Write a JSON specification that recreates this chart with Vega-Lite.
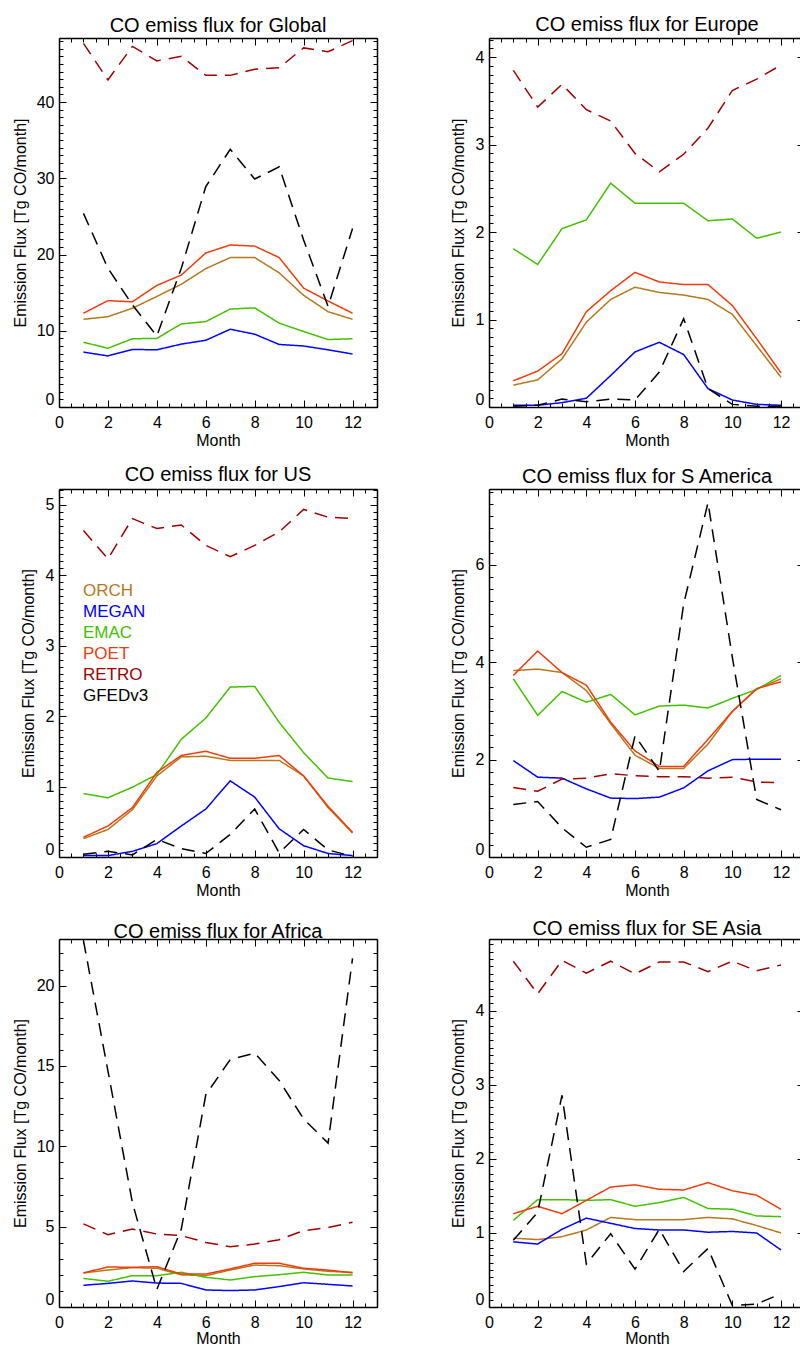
{
"$schema": "https://vega.github.io/schema/vega-lite/v6.json",
"padding": {"left": 12, "top": 14, "right": 0, "bottom": 0},
"bounds": "flush",
"columns": 2,
"spacing": {"row": 82, "column": 112},
"config": {
  "font": "Liberation Sans",
  "view": {"stroke": null},
  "axis": {"domainColor": "#000", "domainWidth": 1.5, "tickColor": "#000", "tickWidth": 1, "labelFontSize": 16, "labelColor": "#000", "labelFont": "Liberation Sans", "titleFont": "Liberation Sans", "titleFontSize": 16, "titleFontWeight": "normal", "titleColor": "#000", "grid": false, "labelOverlap": false, "labelBound": false},
  "title": {"font": "Liberation Sans", "fontSize": 20, "fontWeight": "normal", "color": "#000", "frame": "group", "baseline": "alphabetic", "offset": -3, "anchor": "middle"}
},
"data": {"values": [
{"r":"Global","m":1,"ORCH":11.5,"MEGAN":7.2,"EMAC":8.5,"POET":12.3,"RETRO":47.7,"GFEDv3":25.4},
{"r":"Global","m":2,"ORCH":11.85,"MEGAN":6.7,"EMAC":7.7,"POET":13.95,"RETRO":42.9,"GFEDv3":18.2},
{"r":"Global","m":3,"ORCH":12.95,"MEGAN":7.55,"EMAC":8.95,"POET":13.8,"RETRO":47.3,"GFEDv3":13.4},
{"r":"Global","m":4,"ORCH":14.5,"MEGAN":7.5,"EMAC":9.0,"POET":15.95,"RETRO":45.4,"GFEDv3":9.3},
{"r":"Global","m":5,"ORCH":16.1,"MEGAN":8.25,"EMAC":10.9,"POET":17.3,"RETRO":46.0,"GFEDv3":18.2},
{"r":"Global","m":6,"ORCH":18.15,"MEGAN":8.75,"EMAC":11.2,"POET":20.2,"RETRO":43.5,"GFEDv3":28.9},
{"r":"Global","m":7,"ORCH":19.6,"MEGAN":10.2,"EMAC":12.85,"POET":21.25,"RETRO":43.5,"GFEDv3":33.8},
{"r":"Global","m":8,"ORCH":19.6,"MEGAN":9.55,"EMAC":13.0,"POET":21.1,"RETRO":44.3,"GFEDv3":29.9},
{"r":"Global","m":9,"ORCH":17.6,"MEGAN":8.2,"EMAC":11.0,"POET":19.6,"RETRO":44.5,"GFEDv3":31.5},
{"r":"Global","m":10,"ORCH":14.65,"MEGAN":8.0,"EMAC":9.9,"POET":15.6,"RETRO":47.1,"GFEDv3":21.9},
{"r":"Global","m":11,"ORCH":12.5,"MEGAN":7.5,"EMAC":8.85,"POET":13.9,"RETRO":46.6,"GFEDv3":13.2},
{"r":"Global","m":12,"ORCH":11.5,"MEGAN":6.95,"EMAC":8.95,"POET":12.3,"RETRO":48.05,"GFEDv3":23.4},
{"r":"Europe","m":1,"ORCH":0.25,"MEGAN":0.02,"EMAC":1.81,"POET":0.30,"RETRO":3.85,"GFEDv3":0.01},
{"r":"Europe","m":2,"ORCH":0.31,"MEGAN":0.02,"EMAC":1.63,"POET":0.41,"RETRO":3.43,"GFEDv3":0.02},
{"r":"Europe","m":3,"ORCH":0.55,"MEGAN":0.05,"EMAC":2.04,"POET":0.61,"RETRO":3.69,"GFEDv3":0.09},
{"r":"Europe","m":4,"ORCH":0.97,"MEGAN":0.10,"EMAC":2.14,"POET":1.09,"RETRO":3.40,"GFEDv3":0.06},
{"r":"Europe","m":5,"ORCH":1.23,"MEGAN":0.36,"EMAC":2.56,"POET":1.33,"RETRO":3.27,"GFEDv3":0.09},
{"r":"Europe","m":6,"ORCH":1.37,"MEGAN":0.63,"EMAC":2.33,"POET":1.54,"RETRO":2.90,"GFEDv3":0.08},
{"r":"Europe","m":7,"ORCH":1.31,"MEGAN":0.74,"EMAC":2.33,"POET":1.43,"RETRO":2.69,"GFEDv3":0.40},
{"r":"Europe","m":8,"ORCH":1.28,"MEGAN":0.60,"EMAC":2.33,"POET":1.40,"RETRO":2.89,"GFEDv3":1.01},
{"r":"Europe","m":9,"ORCH":1.23,"MEGAN":0.21,"EMAC":2.13,"POET":1.40,"RETRO":3.19,"GFEDv3":0.21},
{"r":"Europe","m":10,"ORCH":1.06,"MEGAN":0.08,"EMAC":2.15,"POET":1.16,"RETRO":3.62,"GFEDv3":0.03},
{"r":"Europe","m":11,"ORCH":0.70,"MEGAN":0.03,"EMAC":1.93,"POET":0.78,"RETRO":3.75,"GFEDv3":0.01},
{"r":"Europe","m":12,"ORCH":0.34,"MEGAN":0.02,"EMAC":2.00,"POET":0.39,"RETRO":3.91,"GFEDv3":0.01},
{"r":"US","m":1,"ORCH":0.26,"MEGAN":0.02,"EMAC":0.90,"POET":0.28,"RETRO":4.63,"GFEDv3":0.04},
{"r":"US","m":2,"ORCH":0.39,"MEGAN":0.02,"EMAC":0.84,"POET":0.44,"RETRO":4.23,"GFEDv3":0.08},
{"r":"US","m":3,"ORCH":0.67,"MEGAN":0.08,"EMAC":0.99,"POET":0.70,"RETRO":4.80,"GFEDv3":0.03},
{"r":"US","m":4,"ORCH":1.15,"MEGAN":0.19,"EMAC":1.17,"POET":1.20,"RETRO":4.66,"GFEDv3":0.25},
{"r":"US","m":5,"ORCH":1.42,"MEGAN":0.44,"EMAC":1.67,"POET":1.44,"RETRO":4.71,"GFEDv3":0.12},
{"r":"US","m":6,"ORCH":1.43,"MEGAN":0.68,"EMAC":1.97,"POET":1.50,"RETRO":4.42,"GFEDv3":0.05},
{"r":"US","m":7,"ORCH":1.37,"MEGAN":1.08,"EMAC":2.41,"POET":1.40,"RETRO":4.26,"GFEDv3":0.32},
{"r":"US","m":8,"ORCH":1.37,"MEGAN":0.85,"EMAC":2.42,"POET":1.40,"RETRO":4.42,"GFEDv3":0.68},
{"r":"US","m":9,"ORCH":1.37,"MEGAN":0.40,"EMAC":1.91,"POET":1.44,"RETRO":4.61,"GFEDv3":0.06},
{"r":"US","m":10,"ORCH":1.15,"MEGAN":0.16,"EMAC":1.48,"POET":1.15,"RETRO":4.93,"GFEDv3":0.39},
{"r":"US","m":11,"ORCH":0.70,"MEGAN":0.05,"EMAC":1.12,"POET":0.72,"RETRO":4.82,"GFEDv3":0.10},
{"r":"US","m":12,"ORCH":0.34,"MEGAN":0.02,"EMAC":1.07,"POET":0.35,"RETRO":4.80,"GFEDv3":0.01},
{"r":"S America","m":1,"ORCH":3.83,"MEGAN":1.98,"EMAC":3.66,"POET":3.73,"RETRO":1.43,"GFEDv3":1.08},
{"r":"S America","m":2,"ORCH":3.86,"MEGAN":1.64,"EMAC":2.91,"POET":4.23,"RETRO":1.35,"GFEDv3":1.14},
{"r":"S America","m":3,"ORCH":3.79,"MEGAN":1.62,"EMAC":3.40,"POET":3.79,"RETRO":1.60,"GFEDv3":0.60},
{"r":"S America","m":4,"ORCH":3.42,"MEGAN":1.40,"EMAC":3.18,"POET":3.53,"RETRO":1.62,"GFEDv3":0.20},
{"r":"S America","m":5,"ORCH":2.74,"MEGAN":1.21,"EMAC":3.34,"POET":2.77,"RETRO":1.71,"GFEDv3":0.36},
{"r":"S America","m":6,"ORCH":2.09,"MEGAN":1.20,"EMAC":2.92,"POET":2.18,"RETRO":1.67,"GFEDv3":2.49},
{"r":"S America","m":7,"ORCH":1.82,"MEGAN":1.23,"EMAC":3.10,"POET":1.86,"RETRO":1.65,"GFEDv3":1.76},
{"r":"S America","m":8,"ORCH":1.82,"MEGAN":1.42,"EMAC":3.12,"POET":1.86,"RETRO":1.65,"GFEDv3":5.2},
{"r":"S America","m":9,"ORCH":2.32,"MEGAN":1.77,"EMAC":3.06,"POET":2.42,"RETRO":1.62,"GFEDv3":7.28},
{"r":"S America","m":10,"ORCH":2.99,"MEGAN":2.00,"EMAC":3.26,"POET":2.99,"RETRO":1.64,"GFEDv3":4.1},
{"r":"S America","m":11,"ORCH":3.45,"MEGAN":2.01,"EMAC":3.44,"POET":3.46,"RETRO":1.54,"GFEDv3":1.18},
{"r":"S America","m":12,"ORCH":3.66,"MEGAN":2.01,"EMAC":3.73,"POET":3.60,"RETRO":1.53,"GFEDv3":0.97},
{"r":"Africa","m":1,"ORCH":2.12,"MEGAN":1.35,"EMAC":1.78,"POET":2.12,"RETRO":5.17,"GFEDv3":22.8},
{"r":"Africa","m":2,"ORCH":2.30,"MEGAN":1.47,"EMAC":1.60,"POET":2.49,"RETRO":4.50,"GFEDv3":14.7},
{"r":"Africa","m":3,"ORCH":2.45,"MEGAN":1.62,"EMAC":1.95,"POET":2.47,"RETRO":4.85,"GFEDv3":6.5},
{"r":"Africa","m":4,"ORCH":2.41,"MEGAN":1.49,"EMAC":1.95,"POET":2.51,"RETRO":4.54,"GFEDv3":1.1},
{"r":"Africa","m":5,"ORCH":2.00,"MEGAN":1.47,"EMAC":2.16,"POET":2.05,"RETRO":4.44,"GFEDv3":4.85},
{"r":"Africa","m":6,"ORCH":1.95,"MEGAN":1.06,"EMAC":1.85,"POET":2.05,"RETRO":4.02,"GFEDv3":13.2},
{"r":"Africa","m":7,"ORCH":2.30,"MEGAN":1.02,"EMAC":1.68,"POET":2.37,"RETRO":3.75,"GFEDv3":15.4},
{"r":"Africa","m":8,"ORCH":2.61,"MEGAN":1.06,"EMAC":1.89,"POET":2.72,"RETRO":3.92,"GFEDv3":15.8},
{"r":"Africa","m":9,"ORCH":2.57,"MEGAN":1.27,"EMAC":2.01,"POET":2.72,"RETRO":4.19,"GFEDv3":14.1},
{"r":"Africa","m":10,"ORCH":2.37,"MEGAN":1.51,"EMAC":2.16,"POET":2.41,"RETRO":4.75,"GFEDv3":11.7},
{"r":"Africa","m":11,"ORCH":2.22,"MEGAN":1.41,"EMAC":1.99,"POET":2.30,"RETRO":4.94,"GFEDv3":10.2},
{"r":"Africa","m":12,"ORCH":2.16,"MEGAN":1.31,"EMAC":1.99,"POET":2.12,"RETRO":5.27,"GFEDv3":21.7},
{"r":"SE Asia","m":1,"ORCH":0.93,"MEGAN":0.88,"EMAC":1.17,"POET":1.26,"RETRO":4.67,"GFEDv3":0.90},
{"r":"SE Asia","m":2,"ORCH":0.91,"MEGAN":0.85,"EMAC":1.45,"POET":1.36,"RETRO":4.23,"GFEDv3":1.28},
{"r":"SE Asia","m":3,"ORCH":0.95,"MEGAN":1.05,"EMAC":1.45,"POET":1.26,"RETRO":4.68,"GFEDv3":2.86},
{"r":"SE Asia","m":4,"ORCH":1.04,"MEGAN":1.20,"EMAC":1.44,"POET":1.44,"RETRO":4.51,"GFEDv3":0.58},
{"r":"SE Asia","m":5,"ORCH":1.21,"MEGAN":1.13,"EMAC":1.45,"POET":1.62,"RETRO":4.67,"GFEDv3":0.99},
{"r":"SE Asia","m":6,"ORCH":1.18,"MEGAN":1.06,"EMAC":1.36,"POET":1.65,"RETRO":4.50,"GFEDv3":0.51},
{"r":"SE Asia","m":7,"ORCH":1.18,"MEGAN":1.04,"EMAC":1.41,"POET":1.59,"RETRO":4.66,"GFEDv3":1.05},
{"r":"SE Asia","m":8,"ORCH":1.18,"MEGAN":1.04,"EMAC":1.48,"POET":1.58,"RETRO":4.66,"GFEDv3":0.48},
{"r":"SE Asia","m":9,"ORCH":1.21,"MEGAN":1.01,"EMAC":1.33,"POET":1.68,"RETRO":4.53,"GFEDv3":0.79},
{"r":"SE Asia","m":10,"ORCH":1.19,"MEGAN":1.02,"EMAC":1.32,"POET":1.57,"RETRO":4.67,"GFEDv3":0.02},
{"r":"SE Asia","m":11,"ORCH":1.10,"MEGAN":1.00,"EMAC":1.23,"POET":1.51,"RETRO":4.54,"GFEDv3":0.04},
{"r":"SE Asia","m":12,"ORCH":1.00,"MEGAN":0.77,"EMAC":1.22,"POET":1.32,"RETRO":4.62,"GFEDv3":0.18}
]},
"concat": [
{
 "width": 318, "height": 369,
 "title": {"text": "CO emiss flux for Global"},
 "transform": [{"filter": "datum.r === 'Global'"}, {"fold": ["ORCH","MEGAN","EMAC","POET","RETRO","GFEDv3"], "as": ["model","v"]}],
 "layer": [
  {"mark": {"type": "line", "strokeWidth": 1.5, "clip": true},
   "encoding": {
    "x": {"field": "m", "type": "quantitative", "scale": {"domain": [0, 13], "nice": false, "zero": false},
      "axis": {"orient": "bottom", "values": [0,0.5,1,1.5,2,2.5,3,3.5,4,4.5,5,5.5,6,6.5,7,7.5,8,8.5,9,9.5,10,10.5,11,11.5,12,12.5,13], "labelExpr": "datum.value % 2 === 0 ? format(datum.value, 'd') : ''", "tickSize": {"condition": {"test": "datum.value % 2 === 0", "value": -7}, "value": -4}, "labelPadding": 14, "labelFlush": false, "title": "Month", "titleY": 38, "titleBaseline": "alphabetic"}},
    "y": {"field": "v", "type": "quantitative", "scale": {"domain": [0, 48.4], "nice": false, "zero": false},
      "axis": {"orient": "left", "values": [0,1,2,3,4,5,6,7,8,9,10,11,12,13,14,15,16,17,18,19,20,21,22,23,24,25,26,27,28,29,30,31,32,33,34,35,36,37,38,39,40,41,42,43,44,45,46,47,48], "labelExpr": "datum.value % 10 === 0 ? format(datum.value, 'd') : ''", "tickSize": {"condition": {"test": "datum.value % 10 === 0", "value": -7}, "value": -4}, "labelPadding": 12, "labelFlush": true, "title": "Emission Flux [Tg CO/month]", "titleX": -34, "titleBaseline": "alphabetic"}},
    "color": {"field": "model", "type": "nominal", "scale": {"domain": ["ORCH","MEGAN","EMAC","POET","RETRO","GFEDv3"], "range": ["#b5781c","#0000ff","#44c000","#f03c0a","#a00000","#000000"]},
      "legend": {"orient": "none", "legendX": 7, "legendY": 544, "title": null, "symbolOpacity": 0, "symbolSize": 0, "symbolStrokeWidth": 0, "labelOffset": 0, "labelFontSize": 17, "labelFont": "Liberation Sans", "rowPadding": 3, "padding": 0,
        "encode": {"labels": {"update": {"fill": {"signal": "datum.value === 'ORCH' ? '#b5781c' : datum.value === 'MEGAN' ? '#0000ff' : datum.value === 'EMAC' ? '#44c000' : datum.value === 'POET' ? '#f03c0a' : datum.value === 'RETRO' ? '#a00000' : '#000000'"}}}}}},
    "strokeDash": {"field": "model", "type": "nominal", "scale": {"domain": ["ORCH","MEGAN","EMAC","POET","RETRO","GFEDv3"], "range": [[1,0],[1,0],[1,0],[1,0],[13,8],[13,8]]}, "legend": null}
   }},
  {"mark": {"type": "line", "opacity": 0},
   "encoding": {
    "x": {"field": "m", "type": "quantitative", "scale": {"domain": [0, 13], "nice": false, "zero": false},
      "axis": {"orient": "top", "values": [0,0.5,1,1.5,2,2.5,3,3.5,4,4.5,5,5.5,6,6.5,7,7.5,8,8.5,9,9.5,10,10.5,11,11.5,12,12.5,13], "labels": false, "title": null, "tickSize": {"condition": {"test": "datum.value % 2 === 0", "value": -7}, "value": -4}}},
    "y": {"field": "v", "type": "quantitative", "scale": {"domain": [0, 48.4], "nice": false, "zero": false},
      "axis": {"orient": "right", "values": [0,1,2,3,4,5,6,7,8,9,10,11,12,13,14,15,16,17,18,19,20,21,22,23,24,25,26,27,28,29,30,31,32,33,34,35,36,37,38,39,40,41,42,43,44,45,46,47,48], "labels": false, "title": null, "tickSize": {"condition": {"test": "datum.value % 10 === 0", "value": -7}, "value": -4}}},
    "detail": {"field": "model"}
   }}
 ],
 "resolve": {"axis": {"x": "independent", "y": "independent"}}
},
{
 "width": 311, "height": 369,
 "title": {"text": "CO emiss flux for Europe", "dx": 2.5},
 "transform": [{"filter": "datum.r === 'Europe'"}, {"fold": ["ORCH","MEGAN","EMAC","POET","RETRO","GFEDv3"], "as": ["model","v"]}],
 "layer": [
  {"mark": {"type": "line", "strokeWidth": 1.5, "clip": true},
   "encoding": {
    "x": {"field": "m", "type": "quantitative", "scale": {"domain": [0, 12.78], "nice": false, "zero": false},
      "axis": {"orient": "bottom", "values": [0,0.5,1,1.5,2,2.5,3,3.5,4,4.5,5,5.5,6,6.5,7,7.5,8,8.5,9,9.5,10,10.5,11,11.5,12,12.5], "labelExpr": "datum.value % 2 === 0 ? format(datum.value, 'd') : ''", "tickSize": {"condition": {"test": "datum.value % 2 === 0", "value": -7}, "value": -4}, "labelPadding": 14, "labelFlush": false, "title": "Month", "titleX": 158, "titleY": 38, "titleBaseline": "alphabetic"}},
    "y": {"field": "v", "type": "quantitative", "scale": {"domain": [0, 4.22], "nice": false, "zero": false},
      "axis": {"orient": "left", "values": [0,0.1,0.2,0.3,0.4,0.5,0.6,0.7,0.8,0.9,1,1.1,1.2,1.3,1.4,1.5,1.6,1.7,1.8,1.9,2,2.1,2.2,2.3,2.4,2.5,2.6,2.7,2.8,2.9,3,3.1,3.2,3.3,3.4,3.5,3.6,3.7,3.8,3.9,4,4.1,4.2], "labelExpr": "abs(datum.value - round(datum.value)) < 0.001 ? format(datum.value, 'd') : ''", "tickSize": {"condition": {"test": "abs(datum.value - round(datum.value)) < 0.001", "value": -7}, "value": -4}, "labelPadding": 12, "labelFlush": true, "title": "Emission Flux [Tg CO/month]", "titleX": -26, "titleBaseline": "alphabetic"}},
    "color": {"field": "model", "type": "nominal", "scale": {"domain": ["ORCH","MEGAN","EMAC","POET","RETRO","GFEDv3"], "range": ["#b5781c","#0000ff","#44c000","#f03c0a","#a00000","#000000"]},
      "legend": {"orient": "none", "legendX": 7, "legendY": 544, "title": null, "symbolOpacity": 0, "symbolSize": 0, "symbolStrokeWidth": 0, "labelOffset": 0, "labelFontSize": 17, "labelFont": "Liberation Sans", "rowPadding": 3, "padding": 0,
        "encode": {"labels": {"update": {"fill": {"signal": "datum.value === 'ORCH' ? '#b5781c' : datum.value === 'MEGAN' ? '#0000ff' : datum.value === 'EMAC' ? '#44c000' : datum.value === 'POET' ? '#f03c0a' : datum.value === 'RETRO' ? '#a00000' : '#000000'"}}}}}},
    "strokeDash": {"field": "model", "type": "nominal", "scale": {"domain": ["ORCH","MEGAN","EMAC","POET","RETRO","GFEDv3"], "range": [[1,0],[1,0],[1,0],[1,0],[13,8],[13,8]]}, "legend": null}
   }},
  {"mark": {"type": "line", "opacity": 0},
   "encoding": {
    "x": {"field": "m", "type": "quantitative", "scale": {"domain": [0, 12.78], "nice": false, "zero": false},
      "axis": {"orient": "top", "values": [0,0.5,1,1.5,2,2.5,3,3.5,4,4.5,5,5.5,6,6.5,7,7.5,8,8.5,9,9.5,10,10.5,11,11.5,12,12.5], "labels": false, "title": null, "tickSize": {"condition": {"test": "datum.value % 2 === 0", "value": -7}, "value": -4}}},
    "y": {"field": "v", "type": "quantitative", "scale": {"domain": [0, 4.22], "nice": false, "zero": false},
      "axis": {"orient": "right", "domain": false, "values": [0,1,2,3,4], "labels": false, "title": null, "tickSize": -3}},
    "detail": {"field": "model"}
   }}
 ],
 "resolve": {"axis": {"x": "independent", "y": "independent"}}
},
{
 "width": 318, "height": 368,
 "title": {"text": "CO emiss flux for US"},
 "transform": [{"filter": "datum.r === 'US'"}, {"fold": ["ORCH","MEGAN","EMAC","POET","RETRO","GFEDv3"], "as": ["model","v"]}],
 "layer": [
  {"mark": {"type": "line", "strokeWidth": 1.5, "clip": true},
   "encoding": {
    "x": {"field": "m", "type": "quantitative", "scale": {"domain": [0, 13], "nice": false, "zero": false},
      "axis": {"orient": "bottom", "values": [0,0.5,1,1.5,2,2.5,3,3.5,4,4.5,5,5.5,6,6.5,7,7.5,8,8.5,9,9.5,10,10.5,11,11.5,12,12.5,13], "labelExpr": "datum.value % 2 === 0 ? format(datum.value, 'd') : ''", "tickSize": {"condition": {"test": "datum.value % 2 === 0", "value": -7}, "value": -4}, "labelPadding": 14, "labelFlush": false, "title": "Month", "titleY": 38, "titleBaseline": "alphabetic"}},
    "y": {"field": "v", "type": "quantitative", "scale": {"domain": [0, 5.22], "nice": false, "zero": false},
      "axis": {"orient": "left", "values": [0,0.1,0.2,0.3,0.4,0.5,0.6,0.7,0.8,0.9,1,1.1,1.2,1.3,1.4,1.5,1.6,1.7,1.8,1.9,2,2.1,2.2,2.3,2.4,2.5,2.6,2.7,2.8,2.9,3,3.1,3.2,3.3,3.4,3.5,3.6,3.7,3.8,3.9,4,4.1,4.2,4.3,4.4,4.5,4.6,4.7,4.8,4.9,5,5.1,5.2], "labelExpr": "abs(datum.value - round(datum.value)) < 0.001 ? format(datum.value, 'd') : ''", "tickSize": {"condition": {"test": "abs(datum.value - round(datum.value)) < 0.001", "value": -7}, "value": -4}, "labelPadding": 12, "labelFlush": true, "title": "Emission Flux [Tg CO/month]", "titleX": -26, "titleBaseline": "alphabetic"}},
    "color": {"field": "model", "type": "nominal", "scale": {"domain": ["ORCH","MEGAN","EMAC","POET","RETRO","GFEDv3"], "range": ["#b5781c","#0000ff","#44c000","#f03c0a","#a00000","#000000"]},
      "legend": {"orient": "none", "legendX": 7, "legendY": 544, "title": null, "symbolOpacity": 0, "symbolSize": 0, "symbolStrokeWidth": 0, "labelOffset": 0, "labelFontSize": 17, "labelFont": "Liberation Sans", "rowPadding": 3, "padding": 0,
        "encode": {"labels": {"update": {"fill": {"signal": "datum.value === 'ORCH' ? '#b5781c' : datum.value === 'MEGAN' ? '#0000ff' : datum.value === 'EMAC' ? '#44c000' : datum.value === 'POET' ? '#f03c0a' : datum.value === 'RETRO' ? '#a00000' : '#000000'"}}}}}},
    "strokeDash": {"field": "model", "type": "nominal", "scale": {"domain": ["ORCH","MEGAN","EMAC","POET","RETRO","GFEDv3"], "range": [[1,0],[1,0],[1,0],[1,0],[13,8],[13,8]]}, "legend": null}
   }},
  {"mark": {"type": "line", "opacity": 0},
   "encoding": {
    "x": {"field": "m", "type": "quantitative", "scale": {"domain": [0, 13], "nice": false, "zero": false},
      "axis": {"orient": "top", "values": [0,0.5,1,1.5,2,2.5,3,3.5,4,4.5,5,5.5,6,6.5,7,7.5,8,8.5,9,9.5,10,10.5,11,11.5,12,12.5,13], "labels": false, "title": null, "tickSize": {"condition": {"test": "datum.value % 2 === 0", "value": -7}, "value": -4}}},
    "y": {"field": "v", "type": "quantitative", "scale": {"domain": [0, 5.22], "nice": false, "zero": false},
      "axis": {"orient": "right", "values": [0,0.1,0.2,0.3,0.4,0.5,0.6,0.7,0.8,0.9,1,1.1,1.2,1.3,1.4,1.5,1.6,1.7,1.8,1.9,2,2.1,2.2,2.3,2.4,2.5,2.6,2.7,2.8,2.9,3,3.1,3.2,3.3,3.4,3.5,3.6,3.7,3.8,3.9,4,4.1,4.2,4.3,4.4,4.5,4.6,4.7,4.8,4.9,5,5.1,5.2], "labels": false, "title": null, "tickSize": {"condition": {"test": "abs(datum.value - round(datum.value)) < 0.001", "value": -7}, "value": -4}}},
    "detail": {"field": "model"}
   }}
 ],
 "resolve": {"axis": {"x": "independent", "y": "independent"}}
},
{
 "width": 311, "height": 368,
 "title": {"text": "CO emiss flux for S America", "dx": 2.5},
 "transform": [{"filter": "datum.r === 'S America'"}, {"fold": ["ORCH","MEGAN","EMAC","POET","RETRO","GFEDv3"], "as": ["model","v"]}],
 "layer": [
  {"mark": {"type": "line", "strokeWidth": 1.5, "clip": true},
   "encoding": {
    "x": {"field": "m", "type": "quantitative", "scale": {"domain": [0, 12.78], "nice": false, "zero": false},
      "axis": {"orient": "bottom", "values": [0,0.5,1,1.5,2,2.5,3,3.5,4,4.5,5,5.5,6,6.5,7,7.5,8,8.5,9,9.5,10,10.5,11,11.5,12,12.5], "labelExpr": "datum.value % 2 === 0 ? format(datum.value, 'd') : ''", "tickSize": {"condition": {"test": "datum.value % 2 === 0", "value": -7}, "value": -4}, "labelPadding": 14, "labelFlush": false, "title": "Month", "titleX": 158, "titleY": 38, "titleBaseline": "alphabetic"}},
    "y": {"field": "v", "type": "quantitative", "scale": {"domain": [0, 7.56], "nice": false, "zero": false},
      "axis": {"orient": "left", "values": [0,0.25,0.5,0.75,1,1.25,1.5,1.75,2,2.25,2.5,2.75,3,3.25,3.5,3.75,4,4.25,4.5,4.75,5,5.25,5.5,5.75,6,6.25,6.5,6.75,7,7.25,7.5], "labelExpr": "datum.value % 2 === 0 ? format(datum.value, 'd') : ''", "tickSize": {"condition": {"test": "datum.value % 2 === 0", "value": -7}, "value": -4}, "labelPadding": 12, "labelFlush": true, "title": "Emission Flux [Tg CO/month]", "titleX": -26, "titleBaseline": "alphabetic"}},
    "color": {"field": "model", "type": "nominal", "scale": {"domain": ["ORCH","MEGAN","EMAC","POET","RETRO","GFEDv3"], "range": ["#b5781c","#0000ff","#44c000","#f03c0a","#a00000","#000000"]},
      "legend": {"orient": "none", "legendX": 7, "legendY": 544, "title": null, "symbolOpacity": 0, "symbolSize": 0, "symbolStrokeWidth": 0, "labelOffset": 0, "labelFontSize": 17, "labelFont": "Liberation Sans", "rowPadding": 3, "padding": 0,
        "encode": {"labels": {"update": {"fill": {"signal": "datum.value === 'ORCH' ? '#b5781c' : datum.value === 'MEGAN' ? '#0000ff' : datum.value === 'EMAC' ? '#44c000' : datum.value === 'POET' ? '#f03c0a' : datum.value === 'RETRO' ? '#a00000' : '#000000'"}}}}}},
    "strokeDash": {"field": "model", "type": "nominal", "scale": {"domain": ["ORCH","MEGAN","EMAC","POET","RETRO","GFEDv3"], "range": [[1,0],[1,0],[1,0],[1,0],[13,8],[13,8]]}, "legend": null}
   }},
  {"mark": {"type": "line", "opacity": 0},
   "encoding": {
    "x": {"field": "m", "type": "quantitative", "scale": {"domain": [0, 12.78], "nice": false, "zero": false},
      "axis": {"orient": "top", "values": [0,0.5,1,1.5,2,2.5,3,3.5,4,4.5,5,5.5,6,6.5,7,7.5,8,8.5,9,9.5,10,10.5,11,11.5,12,12.5], "labels": false, "title": null, "tickSize": {"condition": {"test": "datum.value % 2 === 0", "value": -7}, "value": -4}}},
    "y": {"field": "v", "type": "quantitative", "scale": {"domain": [0, 7.56], "nice": false, "zero": false},
      "axis": {"orient": "right", "domain": false, "values": [0,2,4,6], "labels": false, "title": null, "tickSize": -3}},
    "detail": {"field": "model"}
   }}
 ],
 "resolve": {"axis": {"x": "independent", "y": "independent"}}
},
{
 "width": 318, "height": 368,
 "title": {"text": "CO emiss flux for Africa"},
 "transform": [{"filter": "datum.r === 'Africa'"}, {"fold": ["ORCH","MEGAN","EMAC","POET","RETRO","GFEDv3"], "as": ["model","v"]}],
 "layer": [
  {"mark": {"type": "line", "strokeWidth": 1.5, "clip": true},
   "encoding": {
    "x": {"field": "m", "type": "quantitative", "scale": {"domain": [0, 13], "nice": false, "zero": false},
      "axis": {"orient": "bottom", "values": [0,0.5,1,1.5,2,2.5,3,3.5,4,4.5,5,5.5,6,6.5,7,7.5,8,8.5,9,9.5,10,10.5,11,11.5,12,12.5,13], "labelExpr": "datum.value % 2 === 0 ? format(datum.value, 'd') : ''", "tickSize": {"condition": {"test": "datum.value % 2 === 0", "value": -7}, "value": -4}, "labelPadding": 14, "labelFlush": false, "title": "Month", "titleY": 36, "titleBaseline": "alphabetic"}},
    "y": {"field": "v", "type": "quantitative", "scale": {"domain": [0, 22.9], "nice": false, "zero": false},
      "axis": {"orient": "left", "values": [0,1,2,3,4,5,6,7,8,9,10,11,12,13,14,15,16,17,18,19,20,21,22], "labelExpr": "datum.value % 5 === 0 ? format(datum.value, 'd') : ''", "tickSize": {"condition": {"test": "datum.value % 5 === 0", "value": -7}, "value": -4}, "labelPadding": 12, "labelFlush": true, "title": "Emission Flux [Tg CO/month]", "titleX": -34, "titleBaseline": "alphabetic"}},
    "color": {"field": "model", "type": "nominal", "scale": {"domain": ["ORCH","MEGAN","EMAC","POET","RETRO","GFEDv3"], "range": ["#b5781c","#0000ff","#44c000","#f03c0a","#a00000","#000000"]},
      "legend": {"orient": "none", "legendX": 7, "legendY": 544, "title": null, "symbolOpacity": 0, "symbolSize": 0, "symbolStrokeWidth": 0, "labelOffset": 0, "labelFontSize": 17, "labelFont": "Liberation Sans", "rowPadding": 3, "padding": 0,
        "encode": {"labels": {"update": {"fill": {"signal": "datum.value === 'ORCH' ? '#b5781c' : datum.value === 'MEGAN' ? '#0000ff' : datum.value === 'EMAC' ? '#44c000' : datum.value === 'POET' ? '#f03c0a' : datum.value === 'RETRO' ? '#a00000' : '#000000'"}}}}}},
    "strokeDash": {"field": "model", "type": "nominal", "scale": {"domain": ["ORCH","MEGAN","EMAC","POET","RETRO","GFEDv3"], "range": [[1,0],[1,0],[1,0],[1,0],[13,8],[13,8]]}, "legend": null}
   }},
  {"mark": {"type": "line", "opacity": 0},
   "encoding": {
    "x": {"field": "m", "type": "quantitative", "scale": {"domain": [0, 13], "nice": false, "zero": false},
      "axis": {"orient": "top", "values": [0,0.5,1,1.5,2,2.5,3,3.5,4,4.5,5,5.5,6,6.5,7,7.5,8,8.5,9,9.5,10,10.5,11,11.5,12,12.5,13], "labels": false, "title": null, "tickSize": {"condition": {"test": "datum.value % 2 === 0", "value": -7}, "value": -4}}},
    "y": {"field": "v", "type": "quantitative", "scale": {"domain": [0, 22.9], "nice": false, "zero": false},
      "axis": {"orient": "right", "values": [0,1,2,3,4,5,6,7,8,9,10,11,12,13,14,15,16,17,18,19,20,21,22], "labels": false, "title": null, "tickSize": {"condition": {"test": "datum.value % 5 === 0", "value": -7}, "value": -4}}},
    "detail": {"field": "model"}
   }}
 ],
 "resolve": {"axis": {"x": "independent", "y": "independent"}}
},
{
 "width": 311, "height": 368,
 "title": {"text": "CO emiss flux for SE Asia", "dx": 2.5},
 "transform": [{"filter": "datum.r === 'SE Asia'"}, {"fold": ["ORCH","MEGAN","EMAC","POET","RETRO","GFEDv3"], "as": ["model","v"]}],
 "layer": [
  {"mark": {"type": "line", "strokeWidth": 1.5, "clip": true},
   "encoding": {
    "x": {"field": "m", "type": "quantitative", "scale": {"domain": [0, 12.78], "nice": false, "zero": false},
      "axis": {"orient": "bottom", "values": [0,0.5,1,1.5,2,2.5,3,3.5,4,4.5,5,5.5,6,6.5,7,7.5,8,8.5,9,9.5,10,10.5,11,11.5,12,12.5], "labelExpr": "datum.value % 2 === 0 ? format(datum.value, 'd') : ''", "tickSize": {"condition": {"test": "datum.value % 2 === 0", "value": -7}, "value": -4}, "labelPadding": 14, "labelFlush": false, "title": "Month", "titleX": 158, "titleY": 36, "titleBaseline": "alphabetic"}},
    "y": {"field": "v", "type": "quantitative", "scale": {"domain": [0, 4.97], "nice": false, "zero": false},
      "axis": {"orient": "left", "values": [0,0.1,0.2,0.3,0.4,0.5,0.6,0.7,0.8,0.9,1,1.1,1.2,1.3,1.4,1.5,1.6,1.7,1.8,1.9,2,2.1,2.2,2.3,2.4,2.5,2.6,2.7,2.8,2.9,3,3.1,3.2,3.3,3.4,3.5,3.6,3.7,3.8,3.9,4,4.1,4.2,4.3,4.4,4.5,4.6,4.7,4.8,4.9], "labelExpr": "abs(datum.value - round(datum.value)) < 0.001 ? format(datum.value, 'd') : ''", "tickSize": {"condition": {"test": "abs(datum.value - round(datum.value)) < 0.001", "value": -7}, "value": -4}, "labelPadding": 12, "labelFlush": true, "title": "Emission Flux [Tg CO/month]", "titleX": -26, "titleBaseline": "alphabetic"}},
    "color": {"field": "model", "type": "nominal", "scale": {"domain": ["ORCH","MEGAN","EMAC","POET","RETRO","GFEDv3"], "range": ["#b5781c","#0000ff","#44c000","#f03c0a","#a00000","#000000"]},
      "legend": {"orient": "none", "legendX": 7, "legendY": 544, "title": null, "symbolOpacity": 0, "symbolSize": 0, "symbolStrokeWidth": 0, "labelOffset": 0, "labelFontSize": 17, "labelFont": "Liberation Sans", "rowPadding": 3, "padding": 0,
        "encode": {"labels": {"update": {"fill": {"signal": "datum.value === 'ORCH' ? '#b5781c' : datum.value === 'MEGAN' ? '#0000ff' : datum.value === 'EMAC' ? '#44c000' : datum.value === 'POET' ? '#f03c0a' : datum.value === 'RETRO' ? '#a00000' : '#000000'"}}}}}},
    "strokeDash": {"field": "model", "type": "nominal", "scale": {"domain": ["ORCH","MEGAN","EMAC","POET","RETRO","GFEDv3"], "range": [[1,0],[1,0],[1,0],[1,0],[13,8],[13,8]]}, "legend": null}
   }},
  {"mark": {"type": "line", "opacity": 0},
   "encoding": {
    "x": {"field": "m", "type": "quantitative", "scale": {"domain": [0, 12.78], "nice": false, "zero": false},
      "axis": {"orient": "top", "values": [0,0.5,1,1.5,2,2.5,3,3.5,4,4.5,5,5.5,6,6.5,7,7.5,8,8.5,9,9.5,10,10.5,11,11.5,12,12.5], "labels": false, "title": null, "tickSize": {"condition": {"test": "datum.value % 2 === 0", "value": -7}, "value": -4}}},
    "y": {"field": "v", "type": "quantitative", "scale": {"domain": [0, 4.97], "nice": false, "zero": false},
      "axis": {"orient": "right", "domain": false, "values": [0,1,2,3,4], "labels": false, "title": null, "tickSize": -3}},
    "detail": {"field": "model"}
   }}
 ],
 "resolve": {"axis": {"x": "independent", "y": "independent"}}
}
]
}
